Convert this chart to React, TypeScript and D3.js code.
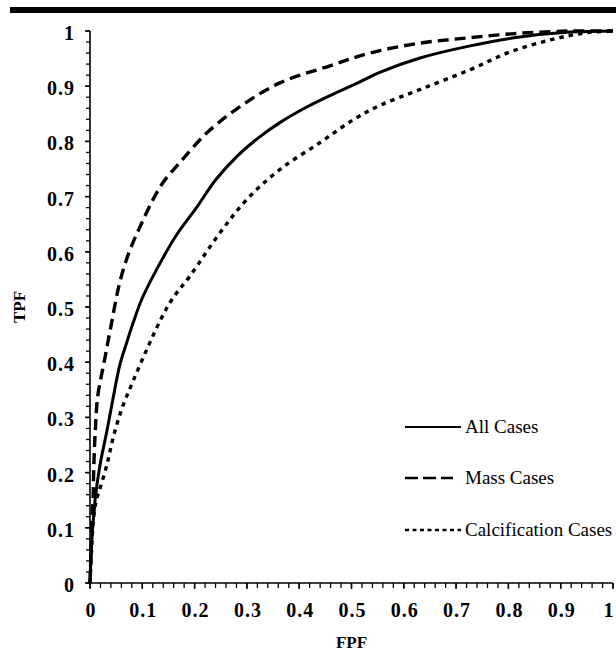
import React from "react";
import * as d3 from "d3";

const allFpf = [0, 0.002, 0.005, 0.008, 0.01, 0.019, 0.032, 0.044, 0.057, 0.07, 0.082, 0.099, 0.128, 0.165, 0.205, 0.24, 0.281, 0.32, 0.363, 0.41, 0.459, 0.51, 0.554, 0.631, 0.727, 0.822, 0.918, 1];
const allTpf = [0, 0.05, 0.1, 0.13, 0.153, 0.213, 0.274, 0.334, 0.395, 0.435, 0.47, 0.514, 0.569, 0.63, 0.682, 0.73, 0.773, 0.805, 0.834, 0.86, 0.883, 0.905, 0.925, 0.951, 0.973, 0.989, 0.998, 1];

const massFpf = [0, 0.002, 0.004, 0.006, 0.007, 0.01, 0.015, 0.027, 0.04, 0.057, 0.075, 0.096, 0.118, 0.14, 0.172, 0.224, 0.287, 0.363, 0.459, 0.535, 0.631, 0.727, 0.822, 0.918, 1];
const massTpf = [0, 0.06, 0.12, 0.153, 0.202, 0.274, 0.34, 0.4, 0.465, 0.545, 0.6, 0.646, 0.69, 0.726, 0.762, 0.816, 0.863, 0.906, 0.937, 0.96, 0.978, 0.988, 0.996, 1, 1];

const calcFpf = [0, 0.003, 0.006, 0.01, 0.013, 0.019, 0.032, 0.044, 0.061, 0.082, 0.109, 0.134, 0.157, 0.191, 0.249, 0.3, 0.363, 0.44, 0.503, 0.554, 0.631, 0.727, 0.803, 0.885, 0.95, 1];
const calcTpf = [0, 0.06, 0.11, 0.14, 0.153, 0.171, 0.213, 0.262, 0.316, 0.365, 0.424, 0.475, 0.514, 0.556, 0.635, 0.695, 0.749, 0.798, 0.839, 0.865, 0.894, 0.93, 0.962, 0.985, 0.997, 1];

const tickValues = [0, 0.1, 0.2, 0.3, 0.4, 0.5, 0.6, 0.7, 0.8, 0.9, 1];
const tickLabels = ["0", "0.1", "0.2", "0.3", "0.4", "0.5", "0.6", "0.7", "0.8", "0.9", "1"];
const minorTicks = d3.range(0, 51).map((i) => i / 50);

const legendLabels = ["All Cases", "Mass Cases", "Calcification Cases"];

const FONT = "'Liberation Serif', 'Times New Roman', serif";

export default function App() {
  const x = d3.scaleLinear().domain([0, 1]).range([90, 613]);
  const y = d3.scaleLinear().domain([0, 1]).range([583, 31]);

  const zip = (a: number[], b: number[]) => a.map((v, i) => [v, b[i]] as [number, number]);

  const series = [
    { pts: zip(allFpf, allTpf), dash: "none", w: 3 },
    { pts: zip(massFpf, massTpf), dash: "11 6", w: 3.4 },
    { pts: zip(calcFpf, calcTpf), dash: "4.5 5", w: 3.4 },
  ];

  const lineFn = d3
    .line<[number, number]>()
    .x((d) => x(d[0]))
    .y((d) => y(d[1]))
    .curve(d3.curveCatmullRom.alpha(0.5));

  const legendY = [427, 478, 530];
  const legendDash = ["none", "13 5", "4 3.5"];

  return (
    <svg width={616} height={655} style={{ position: "absolute", left: 0, top: 0, background: "#fff" }}>
      <rect x={10} y={7} width={606} height={6} fill="#000" />
      {series.map((s, i) => (
        <path
          key={i}
          d={lineFn(s.pts) || ""}
          fill="none"
          stroke="#000"
          strokeWidth={s.w}
          strokeDasharray={s.dash}
          strokeLinejoin="round"
        />
      ))}
      <line x1={x(0)} x2={x(0)} y1={y(1)} y2={y(0)} stroke="#000" strokeWidth={1.6} />
      <line x1={x(0)} x2={x(1)} y1={y(0)} y2={y(0)} stroke="#000" strokeWidth={1.6} />
      {minorTicks.map((t, i) => (
        <g key={"m" + i}>
          <line x1={x(0) - 4} x2={x(0)} y1={y(t)} y2={y(t)} stroke="#000" strokeWidth={1.3} />
          <line x1={x(t)} x2={x(t)} y1={y(0)} y2={y(0) + 5} stroke="#000" strokeWidth={1.3} />
        </g>
      ))}
      {tickValues.map((t, i) => (
        <g key={"t" + i}>
          <line x1={x(0) - 5} x2={x(0)} y1={y(t)} y2={y(t)} stroke="#000" strokeWidth={1.5} />
          <line x1={x(t)} x2={x(t)} y1={y(0)} y2={y(0) + 6} stroke="#000" strokeWidth={1.5} />
          <text
            x={75}
            y={y(t) + 2}
            dy="0.35em"
            textAnchor="end"
            fontFamily={FONT}
            fontWeight="bold"
            fontSize={20}
            letterSpacing={1}
          >
            {tickLabels[i]}
          </text>
          <text
            x={i === tickValues.length - 1 ? 609 : x(t) + 1}
            y={617}
            textAnchor="middle"
            fontFamily={FONT}
            fontWeight="bold"
            fontSize={20}
            letterSpacing={1}
          >
            {tickLabels[i]}
          </text>
        </g>
      ))}
      <text
        transform={`translate(25, ${y(0.5)}) rotate(-90)`}
        textAnchor="middle"
        fontFamily={FONT}
        fontWeight="bold"
        fontSize={17}
      >
        TPF
      </text>
      <text x={x(0.5)} y={648} textAnchor="middle" fontFamily={FONT} fontWeight="bold" fontSize={17}>
        FPF
      </text>
      {legendLabels.map((lab, i) => (
        <g key={"l" + i}>
          <line
            x1={405}
            x2={i === 1 ? 453 : 461}
            y1={legendY[i]}
            y2={legendY[i]}
            stroke="#000"
            strokeWidth={i === 0 ? 2 : 2.6}
            strokeDasharray={legendDash[i]}
          />
          <text x={465} y={legendY[i]} dy="0.33em" fontFamily={FONT} fontSize={19}>
            {lab}
          </text>
        </g>
      ))}
    </svg>
  );
}
